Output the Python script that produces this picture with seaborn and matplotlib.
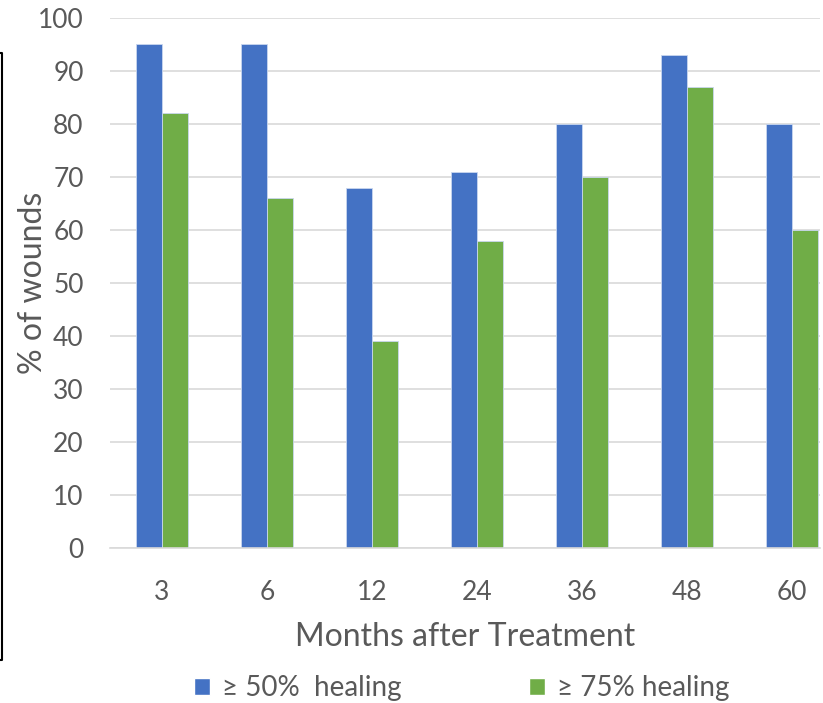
import matplotlib
matplotlib.use("Agg")
import matplotlib.pyplot as plt
from matplotlib.lines import Line2D
from matplotlib.patches import Patch
import seaborn as sns
import pandas as pd

months = ["3", "6", "12", "24", "36", "48", "60"]
healing_50 = [95, 95, 68, 71, 80, 93, 80]
healing_75 = [82, 66, 39, 58, 70, 87, 60]
series_names = ["\u2265 50%  healing", "\u2265 75% healing"]
y_ticks = [0, 10, 20, 30, 40, 50, 60, 70, 80, 90, 100]

BLUE = "#4472C4"
GREEN = "#70AD47"
TEXT = "#595959"

df = pd.DataFrame({
    "month": months * 2,
    "value": healing_50 + healing_75,
    "series": [series_names[0]] * len(months) + [series_names[1]] * len(months),
})

sns.set_theme(style="white")
plt.rcParams["font.family"] = ["Lato", "DejaVu Sans"]

W, H = 823, 703
fig = plt.figure(figsize=(W / 100, H / 100), dpi=100)
ax = fig.add_axes([0.1337, 0.2205, 0.8627, 0.7539])

sns.barplot(data=df, x="month", y="value", hue="series", order=months,
            hue_order=series_names, palette=[BLUE, GREEN], width=0.486,
            saturation=1, edgecolor="#c9d7ef", linewidth=0.6, ax=ax,
            legend=False)

ax.set_ylim(0, 100)
ax.set_xlim(-0.495, 6.267)
ax.set_yticks(y_ticks)
ax.yaxis.grid(True, color="#d9d9d9", linewidth=1.2)
ax.set_axisbelow(True)
for side in ["top", "right", "left"]:
    ax.spines[side].set_visible(False)
ax.spines["bottom"].set_color("#d9d9d9")
ax.spines["bottom"].set_linewidth(1.2)
ax.tick_params(axis="both", length=0, labelsize=19, labelcolor=TEXT)
ax.tick_params(axis="x", pad=23)
ax.tick_params(axis="y", pad=19)

ax.set_xlabel("Months after Treatment", fontsize=23, color=TEXT)
ax.xaxis.set_label_coords(0.5, -(622 - 548) / (548 - 18), transform=ax.transAxes)
ax.set_ylabel("% of wounds", fontsize=23, color=TEXT, va="center")
ax.yaxis.set_label_coords(-(110 - 33) / (820 - 110), 0.5, transform=ax.transAxes)

handles = [Patch(facecolor=BLUE), Patch(facecolor=GREEN)]
fig.legend(handles, series_names, loc="center", bbox_to_anchor=(462 / W, 1 - 688 / H),
           ncol=2, frameon=False, fontsize=20, labelcolor=TEXT,
           handlelength=0.55, handleheight=0.55, handletextpad=0.45,
           columnspacing=4.6)

# clipped frame edge on the left
fig.add_artist(Line2D([0, 2 / W, 2 / W, 0], [1 - 53 / H, 1 - 53 / H, 1 - 660 / H, 1 - 660 / H],
                      transform=fig.transFigure, color="black", linewidth=1.5))

fig.savefig("out.png", dpi=100)
